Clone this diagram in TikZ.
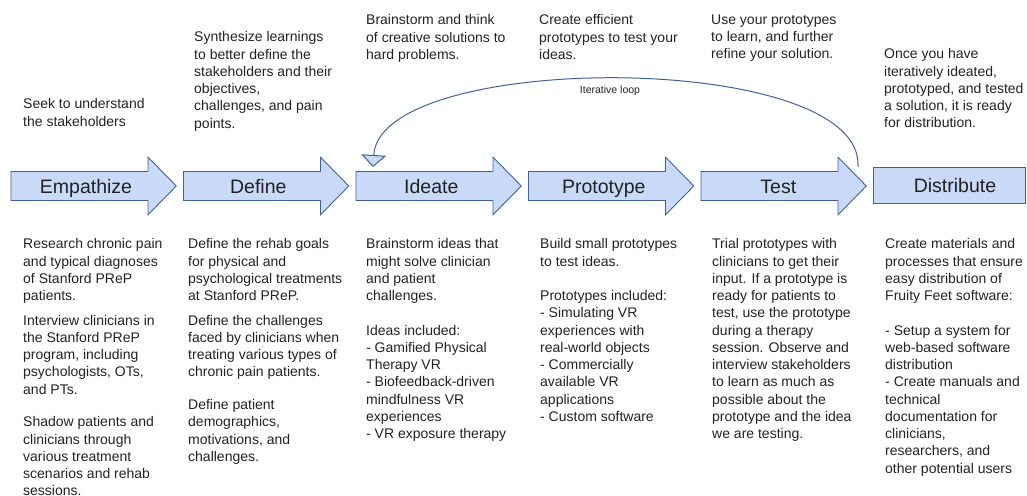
\documentclass[tikz,border=0pt]{standalone}
\usepackage{fontspec}
\setmainfont{Liberation Sans}
\usetikzlibrary{arrows.meta,positioning}

\definecolor{stagefill}{HTML}{C9DAF8}
\definecolor{stageline}{HTML}{41619E}
\definecolor{inktext}{HTML}{222222}

\tikzset{
  stagebody/.style={draw=stageline, fill=stagefill, line width=0.9pt, line join=miter},
  stagelabel/.style={anchor=base, inner sep=0pt,
    font=\fontsize{19.5}{22}\selectfont, text=inktext},
  note/.style={anchor=north west, align=left, inner sep=0pt,
    font=\fontsize{14}{17.25}\selectfont, text=inktext},
  loopline/.style={draw=stageline, line width=1pt,
    -{Triangle[width=25pt,length=12pt,fill=stagefill]}},
}

\begin{document}
\begin{tikzpicture}[x=1pt,y=1pt]
  \useasboundingbox (0,0) rectangle (1027,495);

  % arrow shapes for the five stages, then the last box
  \foreach \x in {11,183.5,356,528.5,701}
    \filldraw[stagebody] (\x,294.5) -- ++(137,0) -- ++(0,-14.3) -- ++(28.3,28.8)
      -- ++(-28.3,28.8) -- ++(0,-14.3) -- ++(-137,0) -- cycle;
  \filldraw[stagebody] (873.5,292) rectangle (1025.5,327.5);

  \node[stagelabel] (empathize)  at (86,301)    {Empathize};
  \node[stagelabel] (define)     at (258.3,301) {Define};
  \node[stagelabel] (ideate)     at (431.3,301) {Ideate};
  \node[stagelabel] (prototype)  at (603.8,301) {Prototype};
  \node[stagelabel] (test)       at (778.3,301) {Test};
  \node[stagelabel] (distribute) at (955,302)   {Distribute};

  % what each stage is about
  \node[note] (seek)  at (23,396.4)  {Seek to understand\\the stakeholders};
  \node[note] (synth) at (194,463.4) {Synthesize learnings\\to better define the\\stakeholders and their\\objectives,\\challenges, and pain\\points.};
  \node[note] (think) at (366,480.4) {Brainstorm and think\\of creative solutions to\\hard problems.};
  \node[note] (build) at (539,480.4) {Create efficient\\prototypes to test your\\ideas.};
  \node[note] (learn) at (711,480.4) {Use your prototypes\\to learn, and further\\refine your solution.};
  \node[note] (ready) at (884,446.4) {Once you have\\iteratively ideated,\\prototyped, and tested\\a solution, it is ready\\for distribution.};

  % what was done in each stage
  \node[note] (empathize-do) at (23,256.4) {Research chronic pain\\and typical diagnoses\\of Stanford PReP\\patients.\\[7.2pt]
    Interview clinicians in\\the Stanford PReP\\program, including\\psychologists, OTs,\\and PTs.\\[15.6pt]
    Shadow patients and\\clinicians through\\various treatment\\scenarios and rehab\\sessions.};
  \node[note] (define-do) at (188,256.4) {Define the rehab goals\\for physical and\\psychological treatments\\at Stanford PReP.\\[7.2pt]
    Define the challenges\\faced by clinicians when\\treating various types of\\chronic pain patients.\\[15.6pt]
    Define patient\\demographics,\\motivations, and\\challenges.};
  \node[note] (ideate-do) at (366,256.4) {Brainstorm ideas that\\might solve clinician\\and patient\\challenges.\\[17.25pt]
    Ideas included:\\- Gamified Physical\\Therapy VR\\- Biofeedback-driven\\mindfulness VR\\experiences\\- VR exposure therapy};
  \node[note] (prototype-do) at (540,256.4) {Build small prototypes\\to test ideas.\\[17.25pt]
    Prototypes included:\\- Simulating VR\\experiences with\\real-world objects\\- Commercially\\available VR\\applications\\- Custom software};
  \node[note] (test-do) at (712,256.4) {Trial prototypes with\\clinicians to get their\\input. If a prototype is\\ready for patients to\\test, use the prototype\\during a therapy\\session. Observe and\\interview stakeholders\\to learn as much as\\possible about the\\prototype and the idea\\we are testing.};
  \node[note] (distribute-do) at (885,256.4) {Create materials and\\processes that ensure\\easy distribution of\\Fruity Feet software:\\[17.25pt]
    - Setup a system for\\web-based software\\distribution\\- Create manuals and\\technical\\documentation for\\clinicians,\\researchers, and\\other potential users};

  % back from testing to ideation
  \coordinate (loopout) at (858,328);
  \coordinate (loopin)  at (373,328);
  \draw[loopline] (loopout) .. controls (865,445) and (380,445) .. (loopin);
  \node[font=\fontsize{10.5}{12}\selectfont, text=inktext] (looplabel) at (610,404.5) {Iterative loop};
\end{tikzpicture}
\end{document}
